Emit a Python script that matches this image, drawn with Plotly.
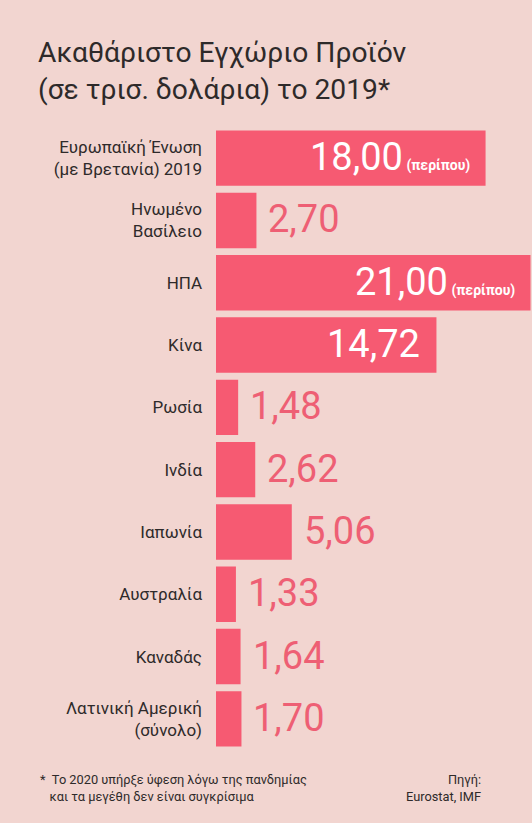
import plotly.graph_objects as go

# data
countries = ["Ευρωπαϊκή Ένωση<br>(με Βρετανία) 2019", "Ηνωμένο<br>Βασίλειο", "ΗΠΑ", "Κίνα",
             "Ρωσία", "Ινδία", "Ιαπωνία", "Αυστραλία", "Καναδάς", "Λατινική Αμερική<br>(σύνολο)"]
gdp = [18.00, 2.70, 21.00, 14.72, 1.48, 2.62, 5.06, 1.33, 1.64, 1.70]
approx = [True, False, True, False, False, False, False, False, False, False]

BG = "#f2d5d0"
BAR = "#f65a72"
TXT = "#2e2a2a"
FONT = "Roboto"

fig = go.Figure()
fig.add_trace(go.Bar(x=gdp, y=countries, orientation="h",
                     marker=dict(color=BAR, line=dict(width=0)),
                     hoverinfo="skip", width=0.89))

# value labels: big bars get white text inside, small ones pink text outside
for c, v, a in zip(countries, gdp, approx):
    txt = f"{v:.2f}".replace(".", ",")
    if a:
        txt += "<span style='font-size:14px'> <b>(περίπου)</b></span>"
    if v > 10:
        fig.add_annotation(x=v, y=c, text=txt, showarrow=False, xanchor="right",
                           xshift=-14, yshift=1, font=dict(family=FONT, size=38, color="white"))
    else:
        fig.add_annotation(x=v, y=c, text=txt, showarrow=False, xanchor="left",
                           xshift=10, yshift=1, font=dict(family=FONT, size=38, color="#ee5f74"))

# footnotes
fig.add_annotation(xref="paper", yref="paper", x=-178/316, y=-20/623, yanchor="top", xanchor="left",
                   align="left", showarrow=False,
                   text="*  Το 2020 υπήρξε ύφεση λόγω της πανδημίας<br>   και τα μεγέθη δεν είναι συγκρίσιμα",
                   font=dict(family=FONT, size=12.8, color=TXT))
fig.add_annotation(xref="paper", yref="paper", x=267/316, y=-20/623, yanchor="top", xanchor="right",
                   align="right", showarrow=False, text="Πηγή:<br>Eurostat, IMF",
                   font=dict(family=FONT, size=12.8, color=TXT))

fig.update_layout(
    width=532, height=823,
    paper_bgcolor=BG, plot_bgcolor=BG,
    margin=dict(l=216, r=0, t=127, b=73),
    showlegend=False,
    bargap=0.1,
    title=dict(text="Ακαθάριστο Εγχώριο Προϊόν<br>(σε τρισ. δολάρια) το 2019*",
               x=38/532, xanchor="left", xref="container",
               y=1 - 62/823, yanchor="top", yref="container",
               font=dict(family=FONT, size=28.2, color=TXT)),
    xaxis=dict(range=[0, 21.1], visible=False, fixedrange=True),
    yaxis=dict(autorange="reversed", showgrid=False, zeroline=False, showline=False,
               ticks="", ticklabelstandoff=13, fixedrange=True,
               tickfont=dict(family=FONT, size=17, color=TXT)),
)

# the page's default 8px body margin would shift the figure
fig.write_html("out.html", config={"displayModeBar": False},
               post_script="document.body.style.margin='0';document.body.style.overflow='hidden';"
                           f"document.body.style.background='{BG}';")
